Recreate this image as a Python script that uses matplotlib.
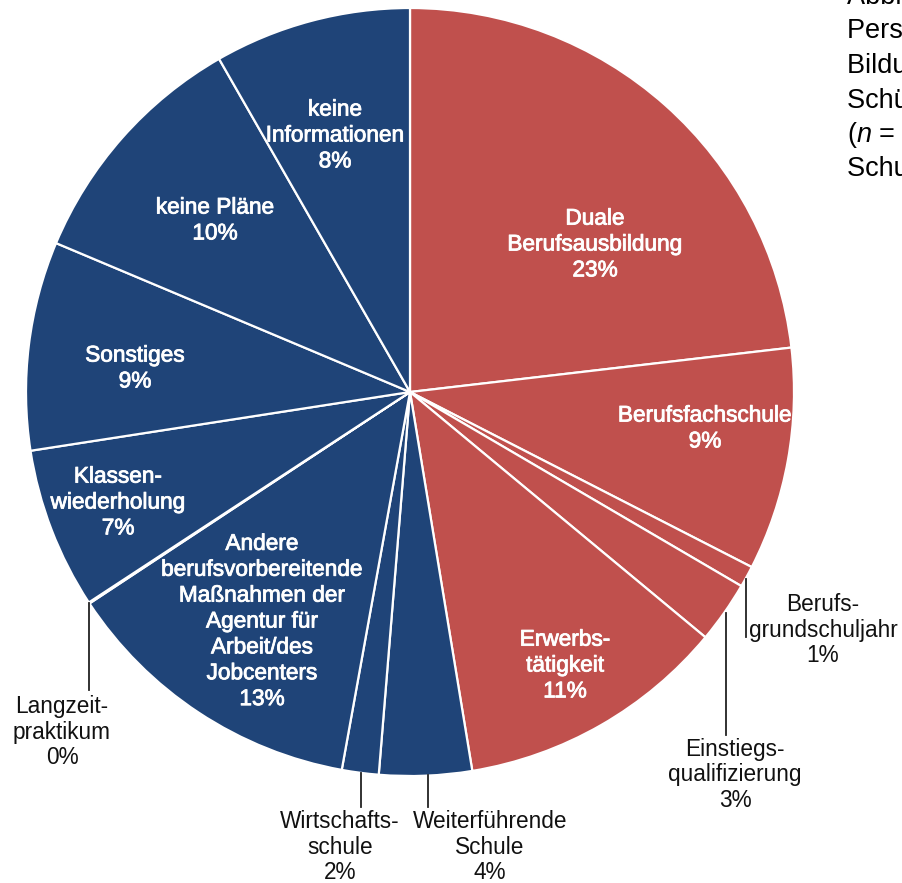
import matplotlib
matplotlib.use("Agg")
import matplotlib.pyplot as plt
import matplotlib.patheffects as pe

plt.rcParams['font.family'] = ['Liberation Sans', 'DejaVu Sans']
plt.rcParams['mathtext.fontset'] = 'custom'
plt.rcParams['mathtext.it'] = 'Liberation Sans:italic'
plt.rcParams['mathtext.rm'] = 'Liberation Sans'

# ---- data (clockwise from 12 o'clock) ----
categories = [
    "Duale\nBerufsausbildung",
    "Berufsfachschule",
    "Berufs-\ngrundschuljahr",
    "Einstiegs-\nqualifizierung",
    "Erwerbs-\ntätigkeit",
    "Weiterführende\nSchule",
    "Wirtschafts-\nschule",
    "Andere\nberufsvorbereitende\nMaßnahmen der\nAgentur für\nArbeit/des\nJobcenters",
    "Langzeit-\npraktikum",
    "Klassen-\nwiederholung",
    "Sonstiges",
    "keine Pläne",
    "keine\nInformationen",
]
values = [23.2, 9.4, 0.9, 2.6, 11.4, 3.9, 1.55, 12.9, 0.05, 6.8, 8.8, 10.4, 8.3]
percent_labels = ["23%", "9%", "1%", "3%", "11%", "4%", "2%", "13%", "0%", "7%", "9%", "10%", "8%"]
groups = ["red", "red", "red", "red", "red", "blue", "blue", "blue", "blue", "blue", "blue", "blue", "blue"]

title_lines = ["Abbildung 9: Verbleib der", "Personen nach", "Bildungsgang der", "Schülerinnen und Schüler",
               "($n$ = 1.325;", "Schuljahr 2019/20)"]

# ---- styling / layout ----
RED = "#C0504D"
BLUE = "#1F4478"
color_map = {"red": RED, "blue": BLUE}

W, H = 902, 883
fig = plt.figure(figsize=(W / 100, H / 100), dpi=100)
cx, cy, R = 410, 392, 384
ax = fig.add_axes([(cx - R) / W, (H - cy - R) / H, 2 * R / W, 2 * R / H])

ax.pie(values, colors=[color_map[g] for g in groups], startangle=90, counterclock=False,
       radius=1.0, wedgeprops=dict(edgecolor="white", linewidth=1.6))
ax.set_xlim(-1, 1)
ax.set_ylim(-1, 1)
ax.set_aspect("equal")
ax.axis("off")

def px(x, y):
    return (x - cx) / R, (cy - y) / R

FS = 16.3
LS = 1.16
# inside labels: index -> pixel center
inside = {0: (595, 244), 1: (705, 428), 4: (565, 665), 7: (262, 621),
          9: (118, 502), 10: (135, 368), 11: (215, 220), 12: (335, 135)}
for i, (x, y) in inside.items():
    dx, dy = px(x, y)
    ax.text(dx, dy, categories[i] + "\n" + percent_labels[i], ha="center", va="center",
            color="white", fontsize=FS, linespacing=LS,
            path_effects=[pe.withStroke(linewidth=0.6, foreground="white")])

# outside labels: index -> (text center, leader x, leader y0, leader y1)
outside = {2: ((823, 630), 746, 579, 637),
           3: ((735, 775), 725.7, 613, 735),
           5: ((490, 847), 428, 775, 807),
           6: ((340, 847), 361, 773, 807),
           8: ((62, 732), 89, 603, 690)}
for i, ((x, y), lx, ly0, ly1) in outside.items():
    dx, dy = px(x, y)
    ax.text(dx, dy, categories[i] + "\n" + percent_labels[i], ha="center", va="center",
            color="#111111", fontsize=FS, linespacing=LS, clip_on=False)
    a0 = px(lx, ly0)
    a1 = px(lx, ly1)
    ax.plot([a0[0], a1[0]], [a0[1], a1[1]], color="#222222", linewidth=1.3, clip_on=False)

# clipped caption at top right
for k, line in enumerate(title_lines):
    fig.text(847 / W, 1 - (4 + 34.5 * k) / H, line, ha="left", va="baseline",
             fontsize=19.5, color="black")

fig.savefig("out.png", dpi=100)
